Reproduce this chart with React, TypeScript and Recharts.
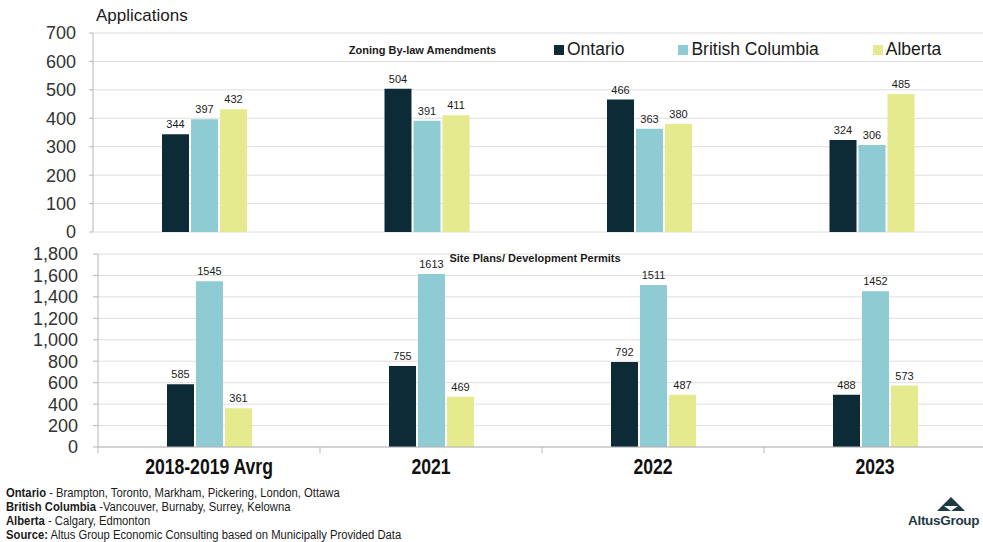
import { BarChart, Bar, XAxis, YAxis, CartesianGrid, LabelList } from "recharts";

const categories = ["2018-2019 Avrg", "2021", "2022", "2023"];
const zoningOntario = [344, 504, 466, 324];
const zoningBC = [397, 391, 363, 306];
const zoningAlberta = [432, 411, 380, 485];
const siteOntario = [585, 755, 792, 488];
const siteBC = [1545, 1613, 1511, 1452];
const siteAlberta = [361, 469, 487, 573];
const zoningTicks = [0, 100, 200, 300, 400, 500, 600, 700];
const siteTicks = [0, 200, 400, 600, 800, 1000, 1200, 1400, 1600, 1800];

const series = [
  { key: "ontario", label: "Ontario", color: "#0d2b36" },
  { key: "bc", label: "British Columbia", color: "#8ecbd2" },
  { key: "alberta", label: "Alberta", color: "#e6ea8e" },
];

const zoningData = categories.map((c, i) => ({
  cat: c,
  ontario: zoningOntario[i],
  bc: zoningBC[i],
  alberta: zoningAlberta[i],
}));
const siteData = categories.map((c, i) => ({
  cat: c,
  ontario: siteOntario[i],
  bc: siteBC[i],
  alberta: siteAlberta[i],
}));

const FONT = '"Liberation Sans", Arial, sans-serif';
const GRID = "#dedede";
const AXIS = "#b5b5b5";

const BOTTOM_W = 986;
const BOTTOM_LEFT = 98;
const BAND = (BOTTOM_W - BOTTOM_LEFT) / categories.length;

// narrow look: Liberation Sans squeezed horizontally
function CatTick(props: any) {
  const { x, y, payload, index } = props;
  return (
    <g>
      <line x1={x - BAND / 2} y1={y} x2={x - BAND / 2} y2={y + 6} stroke={AXIS} />
      {index === categories.length - 1 && (
        <line x1={x + BAND / 2} y1={y} x2={x + BAND / 2} y2={y + 6} stroke={AXIS} />
      )}
      <text
        transform={`translate(${x},${y + 27}) scale(0.8,1)`}
        textAnchor="middle"
        fontFamily={FONT}
        fontWeight="bold"
        fontSize={22}
        fill="#111"
      >
        {payload.value}
      </text>
    </g>
  );
}

function bars() {
  return series.map((s) => (
    <Bar key={s.key} dataKey={s.key} fill={s.color} barSize={27} isAnimationActive={false}>
      <LabelList
        dataKey={s.key}
        position="top"
        offset={6}
        style={{ fontSize: 11, fill: "#1a1a1a", fontFamily: FONT }}
      />
    </Bar>
  ));
}

export default function App() {
  return (
    <div
      style={{
        position: "absolute",
        left: 0,
        top: 0,
        width: 983,
        height: 542,
        overflow: "hidden",
        background: "#fff",
        fontFamily: FONT,
      }}
    >
      <div style={{ position: "absolute", left: 96, top: 6, fontSize: 17, color: "#1a1a1a" }}>Applications</div>

      <div style={{ position: "absolute", left: 0, top: 0 }}>
        <BarChart
          width={983}
          height={252}
          data={zoningData}
          barGap={2}
          margin={{ top: 33, right: 0, bottom: 20, left: 0 }}
        >
          <CartesianGrid horizontal vertical={false} stroke={GRID} />
          <XAxis dataKey="cat" hide />
          <YAxis
            width={93}
            domain={[0, 700]}
            ticks={zoningTicks}
            interval={0}
            tickSize={4}
            tickMargin={13}
            axisLine={{ stroke: AXIS }}
            tickLine={{ stroke: AXIS }}
            tick={{ fontSize: 18, fill: "#333", fontFamily: FONT }}
          />
          {bars()}
        </BarChart>
      </div>

      <div style={{ position: "absolute", left: 0, top: 240 }}>
        <BarChart
          width={BOTTOM_W}
          height={245}
          data={siteData}
          barGap={2}
          margin={{ top: 14, right: 0, bottom: 0, left: 0 }}
        >
          <CartesianGrid horizontal vertical={false} stroke={GRID} />
          <XAxis
            dataKey="cat"
            height={38}
            axisLine={{ stroke: AXIS }}
            tickLine={false}
            tickSize={0}
            tickMargin={0}
            interval={0}
            tick={<CatTick />}
          />
          <YAxis
            width={BOTTOM_LEFT}
            domain={[0, 1800]}
            ticks={siteTicks}
            interval={0}
            tickSize={5}
            tickMargin={15}
            axisLine={{ stroke: AXIS }}
            tickLine={{ stroke: AXIS }}
            tickFormatter={(v: number) => v.toLocaleString("en-US")}
            tick={{ fontSize: 18, fill: "#333", fontFamily: FONT }}
          />
          {bars()}
        </BarChart>
      </div>

      {/* legend */}
      <div
        style={{
          position: "absolute",
          top: 39,
          left: 554,
          display: "flex",
          alignItems: "center",
          gap: 54,
          fontSize: 17.5,
          color: "#1a1a1a",
        }}
      >
        {series.map((s) => (
          <div key={s.key} style={{ display: "flex", alignItems: "center" }}>
            <span style={{ width: 10, height: 10, background: s.color, display: "inline-block", marginRight: 3 }} />
            <span>{s.label}</span>
          </div>
        ))}
      </div>

      <div
        style={{
          position: "absolute",
          left: 0,
          width: 845,
          top: 44,
          textAlign: "center",
          fontSize: 11,
          fontWeight: "bold",
          color: "#1a1a1a",
        }}
      >
        Zoning By-law Amendments
      </div>
      <div
        style={{
          position: "absolute",
          left: 0,
          width: 1070,
          top: 252,
          textAlign: "center",
          fontSize: 11,
          fontWeight: "bold",
          color: "#1a1a1a",
        }}
      >
        Site Plans/ Development Permits
      </div>

      <div
        style={{
          position: "absolute",
          left: 6,
          top: 486,
          fontSize: 12.5,
          lineHeight: "14px",
          color: "#1a1a1a",
          transform: "scaleX(0.9)",
          transformOrigin: "0 0",
          whiteSpace: "nowrap",
        }}
      >
        <div>
          <b>Ontario</b> - Brampton, Toronto, Markham, Pickering, London, Ottawa
        </div>
        <div>
          <b>British Columbia</b> -Vancouver, Burnaby, Surrey, Kelowna
        </div>
        <div>
          <b>Alberta</b> - Calgary, Edmonton
        </div>
        <div>
          <b>Source:</b> Altus Group Economic Consulting based on Municipally Provided Data
        </div>
      </div>

      <div style={{ position: "absolute", left: 905, top: 496, width: 90 }}>
        <svg width={30} height={17} style={{ position: "absolute", left: 31, top: 0 }}>
          <polygon points="15,1 29,15 1,15" fill="#1f3a44" />
          <polygon points="8,10 22,10 15,15" fill="#fff" />
        </svg>
        <div
          style={{
            position: "absolute",
            top: 17,
            left: 3,
            fontSize: 13.5,
            fontWeight: "bold",
            color: "#1f3a44",
            whiteSpace: "nowrap",
            letterSpacing: -0.3,
          }}
        >
          AltusGroup
        </div>
      </div>
    </div>
  );
}
